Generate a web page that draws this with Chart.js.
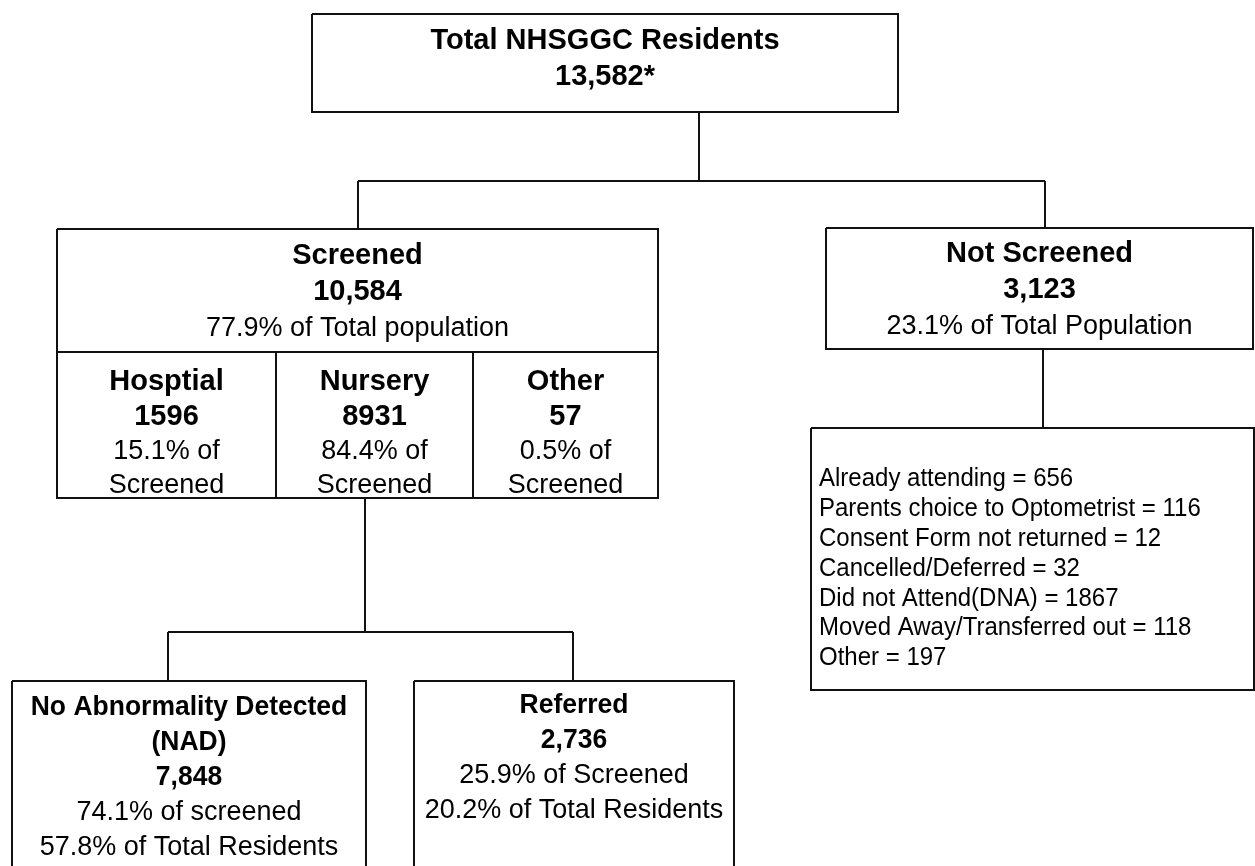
<!DOCTYPE html>
<html>
<head>
<meta charset="utf-8">
<title>NHSGGC screening flow</title>
<script src="https://cdn.jsdelivr.net/npm/chart.js@4/dist/chart.umd.min.js"></script>
<style>
  html, body { margin: 0; padding: 0; background: #fff; }
  #wrap { width: 1255px; height: 866px; position: relative; }
</style>
</head>
<body>
<div id="wrap"><canvas id="flowChart"></canvas></div>
<script>
// ---- data ----
const nodeTitles = [
    ['Total NHSGGC Residents'],
    ['Screened'],
    ['Not Screened'],
    ['Hosptial'],
    ['Nursery'],
    ['Other'],
    ['No Abnormality Detected', '(NAD)'],
    ['Referred']
];
const nodeCounts = ['13,582*', '10,584', '3,123', '1596', '8931', '57', '7,848', '2,736'];
const nodeNotes = [
    [],
    ['77.9% of Total population'],
    ['23.1% of Total Population'],
    ['15.1% of', 'Screened'],
    ['84.4% of', 'Screened'],
    ['0.5% of', 'Screened'],
    ['74.1% of screened', '57.8% of Total Residents'],
    ['25.9% of Screened', '20.2% of Total Residents']
];
const reasonLabels = [
    'Already attending',
    'Parents choice to Optometrist',
    'Consent Form not returned',
    'Cancelled/Deferred',
    'Did not Attend(DNA)',
    'Moved Away/Transferred out',
    'Other'
];
const reasonCounts = [656, 116, 12, 32, 1867, 118, 197];

// ---- layout (chart units, same as pixels: x 0..1255, y 0..866 top-down) ----
const nodeBoxes = [
    { x0: 312, x1: 898, y0: 14, y1: 112 },
    { x0: 57, x1: 658, y0: 229, y1: 352 },
    { x0: 826, x1: 1253, y0: 228, y1: 349 },
    { x0: 57, x1: 276, y0: 352, y1: 498 },
    { x0: 276, x1: 473, y0: 352, y1: 498 },
    { x0: 473, x1: 658, y0: 352, y1: 498 },
    { x0: 12, x1: 366, y0: 681, y1: 880 },
    { x0: 414, x1: 734, y0: 681, y1: 880 }
];
const nodeTextTop = [39, 254, 252, 380, 380, 380, 705, 703];
const nodeTextStep = [36, 36, 36, 34.5, 34.5, 34.5, 35, 35];
// font sizes per node: bold lines, normal lines, vertical stretch
const nodeFonts = [
    { bold: 29, normal: 27, sy: 1.0 },
    { bold: 29, normal: 27, sy: 1.0 },
    { bold: 29, normal: 27, sy: 1.0 },
    { bold: 29, normal: 27, sy: 1.0 },
    { bold: 29, normal: 27, sy: 1.0 },
    { bold: 29, normal: 27, sy: 1.0 },
    { bold: 26.5, normal: 27, sy: 1.04 },
    { bold: 26.5, normal: 27, sy: 1.04 }
];
const reasonBox = { x0: 811, x1: 1254, y0: 428, y1: 690 };
const reasonTextX = 819, reasonTextTop = 477, reasonTextStep = 29.8;
const reasonFont = { normal: 24, sy: 1.1 };

const connectors = [
    [[699, 112], [699, 181]],
    [[358, 181], [1045, 181]],
    [[358, 181], [358, 229]],
    [[1045, 181], [1045, 228]],
    [[1043, 349], [1043, 428]],
    [[365, 498], [365, 632]],
    [[168, 632], [573, 632]],
    [[168, 632], [168, 681]],
    [[573, 632], [573, 681]]
];

const lineColor = '#111';
const fontFamily = '"Liberation Sans", Arial, Helvetica, sans-serif';

// Build outline dataset: every box and connector is a polyline, gaps break them
function boxPath(b) {
    return [
        { x: b.x0, y: b.y0 }, { x: b.x1, y: b.y0 }, { x: b.x1, y: b.y1 },
        { x: b.x0, y: b.y1 }, { x: b.x0, y: b.y0 }, { x: null, y: null }
    ];
}

let outlinePoints = [];
nodeBoxes.forEach(b => { outlinePoints = outlinePoints.concat(boxPath(b)); });
outlinePoints = outlinePoints.concat(boxPath(reasonBox));
connectors.forEach(seg => {
    outlinePoints.push({ x: seg[0][0], y: seg[0][1] });
    outlinePoints.push({ x: seg[1][0], y: seg[1][1] });
    outlinePoints.push({ x: null, y: null });
});

// py is where the middle of the capitals should sit
function drawLine(ctx, text, px, py, bold, size, sy, align) {
    ctx.save();
    ctx.font = (bold ? 'bold ' : '') + size + 'px ' + fontFamily;
    ctx.textAlign = align;
    ctx.textBaseline = 'alphabetic';
    ctx.fillStyle = '#000';
    ctx.translate(px, py + 0.358 * size * sy);
    ctx.scale(1, sy);
    ctx.fillText(text, 0, 0);
    ctx.restore();
}

const flowTextPlugin = {
    id: 'flowText',
    afterDatasetsDraw(chart) {
        const ctx = chart.ctx;
        const xs = chart.scales.x, ys = chart.scales.y;

        nodeTitles.forEach((title, i) => {
            const b = nodeBoxes[i];
            const f = nodeFonts[i];
            const cx = xs.getPixelForValue((b.x0 + b.x1) / 2);
            const lines = [];
            title.forEach(t => lines.push({ t, bold: true }));
            lines.push({ t: nodeCounts[i], bold: true });
            nodeNotes[i].forEach(t => lines.push({ t, bold: false }));
            lines.forEach((ln, k) => {
                const py = ys.getPixelForValue(nodeTextTop[i] + k * nodeTextStep[i]);
                drawLine(ctx, ln.t, cx, py, ln.bold, ln.bold ? f.bold : f.normal, f.sy, 'center');
            });
        });

        reasonLabels.forEach((label, k) => {
            const px = xs.getPixelForValue(reasonTextX);
            const py = ys.getPixelForValue(reasonTextTop + k * reasonTextStep);
            drawLine(ctx, label + ' = ' + reasonCounts[k], px, py, false,
                reasonFont.normal, reasonFont.sy, 'left');
        });
    }
};

new Chart(document.getElementById('flowChart'), {
    type: 'scatter',
    data: {
        datasets: [{
            label: 'outlines',
            data: outlinePoints,
            showLine: true,
            spanGaps: false,
            borderColor: lineColor,
            borderWidth: 2,
            pointRadius: 0,
            pointHoverRadius: 0,
            tension: 0
        }]
    },
    options: {
        responsive: true,
        maintainAspectRatio: false,
        animation: false,
        layout: { padding: 0 },
        scales: {
            x: { type: 'linear', min: 0, max: 1255, display: false },
            y: { type: 'linear', min: 0, max: 866, reverse: true, display: false }
        },
        plugins: {
            legend: { display: false },
            tooltip: { enabled: false }
        }
    },
    plugins: [flowTextPlugin]
});
</script>
</body>
</html>
